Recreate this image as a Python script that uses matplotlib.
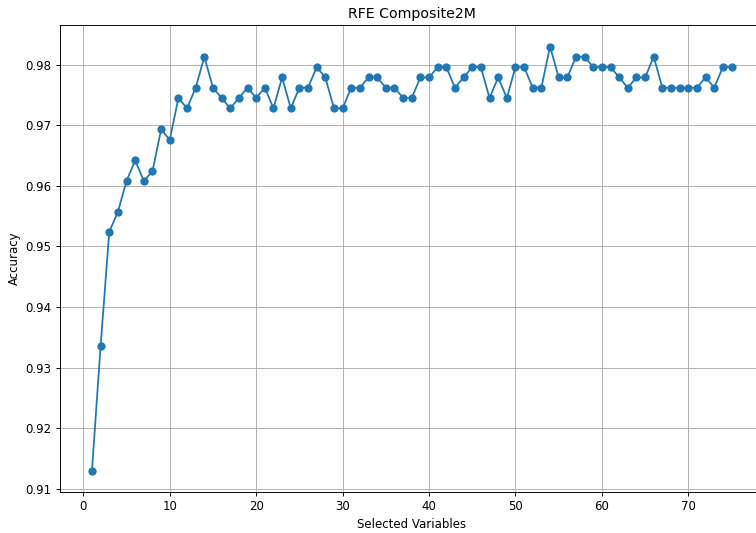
import numpy as np
import matplotlib
matplotlib.use("Agg")
import matplotlib.pyplot as plt

# RFE accuracy for each number of selected variables
n_vars = np.arange(1, 76)
accuracy = [
    0.9130, 0.9336, 0.9524, 0.9557, 0.9608, 0.9642, 0.9608, 0.9624, 0.9693, 0.9676,
    0.9745, 0.9728, 0.9762, 0.9813, 0.9762, 0.9745, 0.9728, 0.9745, 0.9762, 0.9745,
    0.9762, 0.9728, 0.9779, 0.9728, 0.9762, 0.9762, 0.9796, 0.9779, 0.9728, 0.9728,
    0.9762, 0.9762, 0.9779, 0.9779, 0.9762, 0.9762, 0.9745, 0.9745, 0.9779, 0.9779,
    0.9796, 0.9796, 0.9762, 0.9779, 0.9796, 0.9796, 0.9745, 0.9779, 0.9745, 0.9796,
    0.9796, 0.9762, 0.9762, 0.9830, 0.9779, 0.9779, 0.9813, 0.9813, 0.9796, 0.9796,
    0.9796, 0.9779, 0.9762, 0.9779, 0.9779, 0.9813, 0.9762, 0.9762, 0.9762, 0.9762,
    0.9762, 0.9779, 0.9762, 0.9796, 0.9796,
]

dpi = 85
fig = plt.figure(figsize=(756 / dpi, 533 / dpi), dpi=dpi)
# axes run a little past the right edge of the canvas
ax = fig.add_axes([60 / 756, 1 - 491.7 / 533, 703.5 / 756, (491.7 - 25.3) / 533])

ax.plot(n_vars, accuracy, marker='o', color='C0')
ax.set_title("RFE Composite2M")
ax.set_xlabel("Selected Variables")
ax.set_ylabel("Accuracy")
ax.grid(True)

fig.savefig("out.png", dpi=dpi)
